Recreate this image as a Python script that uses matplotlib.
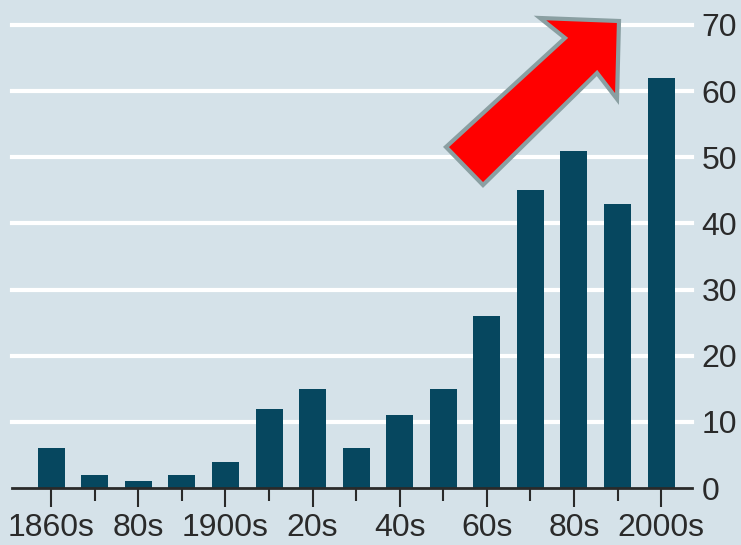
import numpy as np
import matplotlib.pyplot as plt
from matplotlib.patches import Polygon

decades = ["1860s", "1870s", "1880s", "1890s", "1900s", "1910s", "1920s", "1930s",
           "1940s", "1950s", "1960s", "1970s", "1980s", "1990s", "2000s"]
counts = [6, 2, 1, 2, 4, 12, 15, 6, 11, 15, 26, 45, 51, 43, 62]
tick_labels = ["1860s", "80s", "1900s", "20s", "40s", "60s", "80s", "2000s"]
y_ticks = [0, 10, 20, 30, 40, 50, 60, 70]

bg = "#d5e2e9"
bar_col = "#06475f"
ink = "#2a2a2a"

plt.rcParams["font.family"] = ["Liberation Sans", "DejaVu Sans"]

W, H = 741, 545
fig = plt.figure(figsize=(W / 100, H / 100), dpi=100, facecolor=bg)
# axes box in pixel terms: x 12..692, y 488 (zero) .. 25 (70)
ax = fig.add_axes([12 / W, 1 - 488 / H, 680 / W, 463 / H])
ax.set_facecolor(bg)

x = np.arange(len(decades))
ax.set_xlim(-0.9, 14.71)
ax.set_ylim(0, 70)

for v in y_ticks[1:]:
    ax.axhline(v, color="white", lw=3, zorder=1, clip_on=False)

ax.bar(x, counts, width=0.62, color=bar_col, zorder=2)

for s in ["top", "left", "right"]:
    ax.spines[s].set_visible(False)
ax.spines["bottom"].set_color(ink)
ax.spines["bottom"].set_linewidth(2)
ax.spines["bottom"].set_zorder(3)

ax.set_xticks(x[::2])
ax.set_xticklabels(tick_labels)
ax.set_xticks(x[1::2], minor=True)
ax.tick_params(axis="x", which="major", length=14, width=1.5, color=ink,
               labelsize=23, labelcolor=ink, pad=4)
ax.tick_params(axis="x", which="minor", length=9, width=1.5, color=ink)

ax.yaxis.tick_right()
ax.set_yticks(y_ticks)
ax.tick_params(axis="y", length=0, pad=7, labelsize=23, labelcolor=ink)

# red trend arrow drawn over the chart
pts = [(446, 147), (565, 38), (540, 18), (619, 21), (617, 99), (597, 73), (483, 185)]
arrow = Polygon([(px / W, 1 - py / H) for px, py in pts], closed=True,
                transform=fig.transFigure, facecolor="#ff0000",
                edgecolor="#8a9fa2", linewidth=3, joinstyle="miter", zorder=5)
fig.patches.append(arrow)

fig.savefig("out.png", dpi=100, facecolor=bg)
